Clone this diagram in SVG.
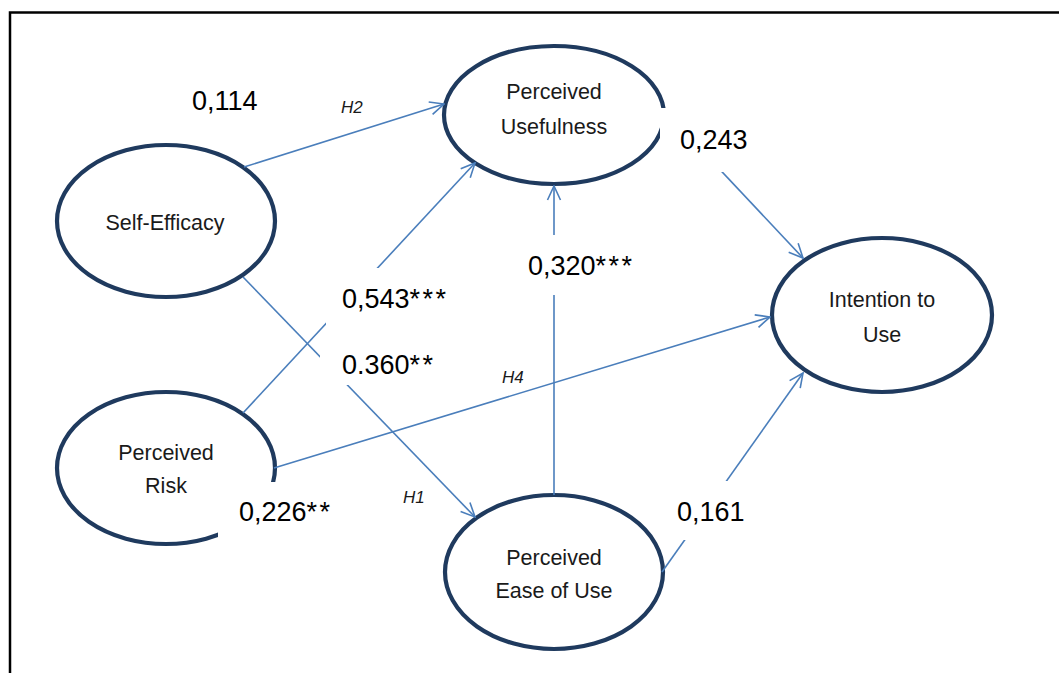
<svg xmlns="http://www.w3.org/2000/svg" width="1059" height="673" viewBox="0 0 1059 673">
  <style>
    .node { fill: #ffffff; stroke: #1f3a5e; stroke-width: 4.2; }
    .ntext { font-family: "Liberation Sans", Arial, sans-serif; font-size: 21.5px; fill: #1a1a1a; text-anchor: middle; }
    .conn { stroke: #4a7ebb; stroke-width: 1.6; fill: none; marker-end: url(#arrow); }
    .lbl { font-family: "Liberation Sans", Arial, sans-serif; font-size: 27px; fill: #000000; }
    .ast { letter-spacing: 2.5px; }
    .hyp { font-family: "Liberation Sans", Arial, sans-serif; font-size: 17px; font-style: italic; fill: #1a1a1a; }
    .mask { fill: #ffffff; stroke: none; }
  </style>
  <defs>
    <marker id="arrow" viewBox="0 0 16 16" refX="15" refY="8" markerWidth="16" markerHeight="16" markerUnits="userSpaceOnUse" orient="auto">
      <path d="M1,1.5 L15,8 L1,14.5" fill="none" stroke="#4a7ebb" stroke-width="1.6"/>
    </marker>
  </defs>
  <rect width="1059" height="673" fill="#ffffff"/>
  <path d="M10,673 V12.5 H1059" fill="none" stroke="#000000" stroke-width="2.5"/>

  <g id="node-self-efficacy">
    <ellipse class="node" cx="166" cy="221" rx="109" ry="76"/>
    <text class="ntext" x="165" y="230">Self-Efficacy</text>
  </g>
  <g id="node-perceived-usefulness">
    <ellipse class="node" cx="554" cy="115" rx="110" ry="69"/>
    <text class="ntext" x="554" y="99">Perceived</text>
    <text class="ntext" x="554" y="134">Usefulness</text>
  </g>
  <g id="node-intention-to-use">
    <ellipse class="node" cx="882" cy="315" rx="110" ry="77"/>
    <text class="ntext" x="882" y="307">Intention to</text>
    <text class="ntext" x="882" y="342">Use</text>
  </g>
  <g id="node-perceived-risk">
    <ellipse class="node" cx="166" cy="468" rx="109" ry="76"/>
    <text class="ntext" x="166" y="460">Perceived</text>
    <text class="ntext" x="166" y="493">Risk</text>
  </g>
  <g id="node-perceived-ease-of-use">
    <ellipse class="node" cx="554" cy="572" rx="109" ry="77"/>
    <text class="ntext" x="554" y="565">Perceived</text>
    <text class="ntext" x="554" y="598">Ease of Use</text>
  </g>

  <g id="connectors">
    <line class="conn" x1="244" y1="167" x2="444" y2="104"/>
    <line class="conn" x1="243" y1="413" x2="475" y2="163"/>
    <line class="conn" x1="243" y1="277" x2="475" y2="517"/>
    <line class="conn" x1="274" y1="468" x2="770" y2="317"/>
    <line class="conn" x1="554" y1="495" x2="554" y2="186"/>
    <line class="conn" x1="664" y1="110" x2="803" y2="258"/>
    <line class="conn" x1="662" y1="572" x2="803" y2="373"/>
  </g>

  <g id="labels">
    <text class="lbl" x="192" y="110">0,114</text>
    <text class="hyp" x="341" y="113">H2</text>

    <rect class="mask" x="326" y="268" width="134" height="60"/>
    <text class="lbl" x="342" y="308">0,543<tspan class="ast">***</tspan></text>

    <rect class="mask" x="320" y="340" width="128" height="45"/>
    <text class="lbl" x="342" y="374">0.360<tspan class="ast">**</tspan></text>

    <text class="hyp" x="502" y="383">H4</text>
    <text class="hyp" x="403" y="503">H1</text>

    <rect class="mask" x="520" y="235" width="124" height="60"/>
    <text class="lbl" x="528" y="275">0,320<tspan class="ast">***</tspan></text>

    <rect class="mask" x="660" y="108" width="100" height="64"/>
    <text class="lbl" x="680" y="149">0,243</text>

    <rect class="mask" x="668" y="481" width="100" height="59"/>
    <text class="lbl" x="677" y="521">0,161</text>

    <rect class="mask" x="218" y="482" width="126" height="68"/>
    <text class="lbl" x="239" y="521">0,226<tspan class="ast">**</tspan></text>
  </g>
</svg>
